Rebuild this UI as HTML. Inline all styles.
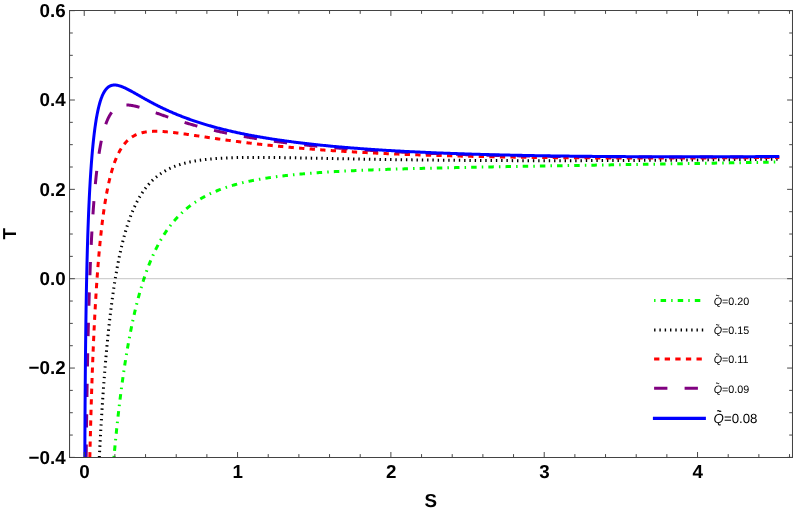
<!DOCTYPE html>
<html><head><meta charset="utf-8"><title>T vs S</title>
<style>
html,body{margin:0;padding:0;background:#fff;}
body{width:793px;height:512px;overflow:hidden;font-family:"Liberation Sans",sans-serif;}
svg{display:block;}
text{font-family:"Liberation Sans",sans-serif;text-rendering:geometricPrecision;}
.tl{font-weight:bold;font-size:18.8px;fill:#000;}
.lg{font-size:10.75px;fill:#000;}
.lgb{font-size:13.25px;fill:#000;}
</style></head><body>
<svg width="793" height="512" viewBox="0 0 793 512" style="will-change:transform">
<rect x="0" y="0" width="793" height="512" fill="#ffffff"/>

<g fill="none" stroke-linejoin="round" stroke-linecap="butt">
<path d="M113.94 457.40 L114.26 453.80 L114.59 450.25 L114.92 446.74 L115.25 443.27 L115.59 439.85 L115.92 436.46 L116.26 433.12 L116.60 429.82 L116.94 426.56 L117.29 423.34 L117.63 420.15 L117.98 417.01 L118.33 413.90 L118.68 410.84 L119.03 407.81 L119.38 404.82 L119.74 401.86 L120.10 398.94 L120.46 396.05 L120.82 393.20 L121.18 390.39 L121.54 387.61 L121.91 384.86 L122.28 382.15 L122.65 379.47 L123.02 376.83 L123.39 374.21 L123.77 371.63 L124.15 369.08 L124.53 366.56 L124.91 364.08 L125.29 361.62 L125.67 359.19 L126.06 356.79 L126.45 354.43 L126.84 352.09 L127.23 349.78 L127.62 347.50 L128.02 345.25 L128.41 343.02 L128.81 340.82 L129.21 338.65 L129.62 336.51 L130.02 334.39 L130.43 332.30 L130.83 330.24 L131.24 328.20 L131.65 326.19 L132.07 324.20 L132.48 322.23 L132.90 320.30 L133.32 318.38 L133.74 316.49 L134.16 314.62 L134.58 312.78 L135.01 310.96 L135.44 309.16 L135.87 307.38 L136.30 305.63 L136.73 303.90 L137.16 302.19 L137.60 300.50 L138.04 298.83 L138.48 297.18 L138.92 295.56 L139.36 293.95 L139.81 292.37 L140.26 290.80 L140.70 289.26 L141.15 287.73 L141.61 286.23 L142.06 284.74 L142.52 283.27 L142.97 281.82 L143.43 280.39 L143.90 278.97 L144.36 277.58 L144.82 276.20 L145.29 274.84 L145.76 273.49 L146.23 272.17 L146.70 270.86 L147.18 269.56 L147.65 268.29 L148.13 267.03 L148.61 265.78 L149.09 264.55 L149.57 263.34 L150.06 262.14 L150.54 260.96 L151.03 259.79 L151.52 258.64 L152.01 257.50 L152.51 256.38 L153.00 255.27 L153.50 254.17 L154.00 253.09 L154.50 252.02 L155.00 250.97 L155.51 249.93 L156.01 248.90 L156.52 247.89 L157.03 246.89 L157.54 245.90 L158.05 244.92 L158.57 243.96 L159.09 243.01 L159.60 242.07 L160.12 241.14 L160.65 240.22 L161.17 239.32 L161.70 238.43 L162.22 237.55 L162.75 236.68 L163.28 235.82 L163.82 234.97 L164.35 234.14 L164.89 233.31 L165.43 232.50 L165.97 231.69 L166.51 230.90 L167.05 230.11 L167.60 229.34 L168.15 228.57 L168.69 227.82 L169.25 227.07 L169.80 226.34 L170.35 225.61 L170.91 224.89 L171.47 224.18 L172.03 223.48 L172.59 222.79 L173.15 222.11 L173.72 221.44 L174.28 220.78 L174.85 220.12 L175.42 219.47 L176.00 218.83 L176.57 218.20 L177.15 217.58 L177.72 216.97 L178.30 216.36 L178.88 215.76 L179.47 215.17 L180.05 214.58 L180.64 214.01 L181.23 213.44 L181.82 212.87 L182.41 212.32 L183.00 211.77 L183.60 211.23 L184.20 210.70 L184.80 210.17 L185.40 209.65 L186.00 209.13 L186.60 208.63 L187.21 208.12 L187.82 207.63 L188.43 207.14 L189.04 206.66 L189.65 206.18 L190.27 205.71 L190.89 205.25 L191.51 204.79 L192.13 204.33 L192.75 203.89 L193.37 203.45 L194.00 203.01 L194.63 202.58 L195.26 202.15 L195.89 201.73 L196.52 201.32 L197.16 200.91 L197.79 200.51 L198.43 200.11 L199.07 199.71 L199.71 199.33 L200.36 198.94 L201.00 198.56 L201.65 198.19 L202.30 197.82 L202.95 197.45 L203.60 197.09 L204.26 196.74 L204.92 196.38 L205.57 196.04 L206.23 195.69 L206.90 195.36 L207.56 195.02 L208.22 194.69 L208.89 194.36 L209.56 194.04 L210.23 193.72 L210.90 193.41 L211.58 193.10 L212.25 192.79 L212.93 192.49 L213.61 192.19 L214.29 191.90 L214.98 191.61 L215.66 191.32 L216.35 191.03 L217.04 190.75 L217.73 190.48 L218.42 190.20 L219.12 189.93 L219.81 189.66 L220.51 189.40 L221.21 189.14 L221.91 188.88 L222.61 188.63 L223.32 188.38 L224.02 188.13 L224.73 187.88 L225.44 187.64 L226.15 187.40 L226.87 187.17 L227.58 186.93 L228.30 186.70 L229.02 186.48 L229.74 186.25 L230.46 186.03 L231.19 185.81 L231.91 185.59 L232.64 185.38 L233.37 185.17 L234.10 184.96 L234.84 184.75 L235.57 184.55 L236.31 184.35 L237.05 184.15 L237.79 183.95 L238.53 183.76 L239.28 183.57 L240.02 183.38 L240.77 183.19 L241.52 183.01 L242.27 182.82 L243.02 182.64 L243.78 182.46 L244.54 182.29 L245.29 182.11 L246.05 181.94 L246.82 181.77 L247.58 181.60 L248.35 181.44 L249.11 181.27 L249.88 181.11 L250.65 180.95 L251.43 180.79 L252.20 180.64 L252.98 180.48 L253.76 180.33 L254.54 180.18 L255.32 180.03 L256.10 179.89 L256.89 179.74 L257.67 179.60 L258.46 179.45 L259.25 179.31 L260.05 179.18 L260.84 179.04 L261.64 178.90 L262.44 178.77 L263.23 178.64 L264.04 178.51 L264.84 178.38 L265.64 178.25 L266.45 178.12 L267.26 178.00 L268.07 177.88 L268.88 177.75 L269.70 177.63 L270.51 177.51 L271.33 177.40 L272.15 177.28 L272.97 177.17 L273.79 177.05 L274.62 176.94 L275.45 176.83 L276.27 176.72 L277.10 176.61 L277.94 176.50 L278.77 176.40 L279.60 176.29 L280.44 176.19 L281.28 176.09 L282.12 175.99 L282.96 175.89 L283.81 175.79 L284.66 175.69 L285.50 175.59 L286.35 175.50 L287.21 175.40 L288.06 175.31 L288.91 175.22 L289.77 175.12 L290.63 175.03 L291.49 174.94 L292.35 174.86 L293.22 174.77 L294.08 174.68 L294.95 174.60 L295.82 174.51 L296.69 174.43 L297.56 174.35 L298.44 174.26 L299.32 174.18 L300.19 174.10 L301.07 174.02 L301.96 173.95 L302.84 173.87 L303.73 173.79 L304.61 173.72 L305.50 173.64 L306.39 173.57 L307.29 173.49 L308.18 173.42 L309.08 173.35 L309.98 173.28 L310.88 173.21 L311.78 173.14 L312.68 173.07 L313.59 173.00 L314.49 172.93 L315.40 172.87 L316.31 172.80 L317.23 172.74 L318.14 172.67 L319.06 172.61 L319.97 172.54 L320.89 172.48 L321.81 172.42 L322.74 172.36 L323.66 172.30 L324.59 172.24 L325.52 172.18 L326.45 172.12 L327.38 172.06 L328.32 172.00 L329.25 171.95 L330.19 171.89 L331.13 171.83 L332.07 171.78 L333.01 171.72 L333.96 171.67 L334.90 171.61 L335.85 171.56 L336.80 171.51 L337.75 171.46 L338.71 171.40 L339.66 171.35 L340.62 171.30 L341.58 171.25 L342.54 171.20 L343.50 171.15 L344.47 171.10 L345.43 171.05 L346.40 171.01 L347.37 170.96 L348.34 170.91 L349.32 170.87 L350.29 170.82 L351.27 170.77 L352.25 170.73 L353.23 170.68 L354.21 170.64 L355.19 170.59 L356.18 170.55 L357.17 170.51 L358.16 170.46 L359.15 170.42 L360.14 170.38 L361.14 170.34 L362.13 170.30 L363.13 170.25 L364.13 170.21 L365.13 170.17 L366.14 170.13 L367.14 170.09 L368.15 170.05 L369.16 170.01 L370.17 169.98 L371.18 169.94 L372.20 169.90 L373.21 169.86 L374.23 169.82 L375.25 169.79 L376.27 169.75 L377.30 169.71 L378.32 169.68 L379.35 169.64 L380.38 169.60 L381.41 169.57 L382.44 169.53 L383.48 169.50 L384.51 169.46 L385.55 169.43 L386.59 169.39 L387.63 169.36 L388.67 169.33 L389.72 169.29 L390.77 169.26 L391.81 169.23 L392.86 169.19 L393.92 169.16 L394.97 169.13 L396.03 169.10 L397.08 169.07 L398.14 169.03 L399.20 169.00 L400.27 168.97 L401.33 168.94 L402.40 168.91 L403.47 168.88 L404.54 168.85 L405.61 168.82 L406.68 168.79 L407.76 168.76 L408.83 168.73 L409.91 168.70 L410.99 168.67 L412.08 168.64 L413.16 168.61 L414.25 168.58 L415.33 168.55 L416.42 168.52 L417.52 168.50 L418.61 168.47 L419.70 168.44 L420.80 168.41 L421.90 168.38 L423.00 168.36 L424.10 168.33 L425.21 168.30 L426.31 168.28 L427.42 168.25 L428.53 168.22 L429.64 168.19 L430.75 168.17 L431.87 168.14 L432.99 168.11 L434.10 168.09 L435.22 168.06 L436.35 168.04 L437.47 168.01 L438.60 167.98 L439.72 167.96 L440.85 167.93 L441.98 167.91 L443.12 167.88 L444.25 167.86 L445.39 167.83 L446.52 167.81 L447.66 167.78 L448.81 167.76 L449.95 167.73 L451.09 167.71 L452.24 167.68 L453.39 167.66 L454.54 167.63 L455.69 167.61 L456.85 167.59 L458.00 167.56 L459.16 167.54 L460.32 167.51 L461.48 167.49 L462.64 167.47 L463.81 167.44 L464.98 167.42 L466.14 167.40 L467.32 167.37 L468.49 167.35 L469.66 167.33 L470.84 167.30 L472.01 167.28 L473.19 167.26 L474.37 167.23 L475.56 167.21 L476.74 167.19 L477.93 167.16 L479.12 167.14 L480.31 167.12 L481.50 167.09 L482.69 167.07 L483.89 167.05 L485.08 167.03 L486.28 167.00 L487.48 166.98 L488.69 166.96 L489.89 166.94 L491.10 166.91 L492.30 166.89 L493.51 166.87 L494.73 166.85 L495.94 166.82 L497.15 166.80 L498.37 166.78 L499.59 166.76 L500.81 166.73 L502.03 166.71 L503.26 166.69 L504.48 166.67 L505.71 166.65 L506.94 166.62 L508.17 166.60 L509.40 166.58 L510.64 166.56 L511.87 166.54 L513.11 166.51 L514.35 166.49 L515.59 166.47 L516.84 166.45 L518.08 166.43 L519.33 166.40 L520.58 166.38 L521.83 166.36 L523.08 166.34 L524.34 166.32 L525.59 166.29 L526.85 166.27 L528.11 166.25 L529.37 166.23 L530.64 166.21 L531.90 166.19 L533.17 166.16 L534.44 166.14 L535.71 166.12 L536.98 166.10 L538.26 166.08 L539.53 166.06 L540.81 166.03 L542.09 166.01 L543.37 165.99 L544.65 165.97 L545.94 165.95 L547.22 165.92 L548.51 165.90 L549.80 165.88 L551.10 165.86 L552.39 165.84 L553.68 165.82 L554.98 165.79 L556.28 165.77 L557.58 165.75 L558.88 165.73 L560.19 165.71 L561.50 165.68 L562.80 165.66 L564.11 165.64 L565.43 165.62 L566.74 165.60 L568.05 165.57 L569.37 165.55 L570.69 165.53 L572.01 165.51 L573.33 165.49 L574.66 165.46 L575.98 165.44 L577.31 165.42 L578.64 165.40 L579.97 165.38 L581.31 165.35 L582.64 165.33 L583.98 165.31 L585.32 165.29 L586.66 165.27 L588.00 165.24 L589.34 165.22 L590.69 165.20 L592.04 165.18 L593.39 165.15 L594.74 165.13 L596.09 165.11 L597.44 165.09 L598.80 165.06 L600.16 165.04 L601.52 165.02 L602.88 165.00 L604.24 164.97 L605.61 164.95 L606.98 164.93 L608.35 164.91 L609.72 164.88 L611.09 164.86 L612.46 164.84 L613.84 164.82 L615.22 164.79 L616.60 164.77 L617.98 164.75 L619.36 164.72 L620.75 164.70 L622.13 164.68 L623.52 164.66 L624.91 164.63 L626.31 164.61 L627.70 164.59 L629.10 164.56 L630.49 164.54 L631.89 164.52 L633.29 164.49 L634.70 164.47 L636.10 164.45 L637.51 164.42 L638.92 164.40 L640.33 164.38 L641.74 164.35 L643.15 164.33 L644.57 164.31 L645.99 164.28 L647.41 164.26 L648.83 164.23 L650.25 164.21 L651.67 164.19 L653.10 164.16 L654.53 164.14 L655.96 164.12 L657.39 164.09 L658.82 164.07 L660.26 164.04 L661.69 164.02 L663.13 164.00 L664.57 163.97 L666.02 163.95 L667.46 163.92 L668.91 163.90 L670.35 163.88 L671.80 163.85 L673.26 163.83 L674.71 163.80 L676.16 163.78 L677.62 163.75 L679.08 163.73 L680.54 163.70 L682.00 163.68 L683.47 163.65 L684.93 163.63 L686.40 163.61 L687.87 163.58 L689.34 163.56 L690.81 163.53 L692.29 163.51 L693.76 163.48 L695.24 163.46 L696.72 163.43 L698.20 163.41 L699.69 163.38 L701.17 163.36 L702.66 163.33 L704.15 163.30 L705.64 163.28 L707.13 163.25 L708.63 163.23 L710.12 163.20 L711.62 163.18 L713.12 163.15 L714.62 163.13 L716.12 163.10 L717.63 163.07 L719.14 163.05 L720.64 163.02 L722.16 163.00 L723.67 162.97 L725.18 162.95 L726.70 162.92 L728.21 162.89 L729.73 162.87 L731.26 162.84 L732.78 162.81 L734.30 162.79 L735.83 162.76 L737.36 162.74 L738.89 162.71 L740.42 162.68 L741.95 162.66 L743.49 162.63 L745.03 162.60 L746.57 162.58 L748.11 162.55 L749.65 162.52 L751.19 162.50 L752.74 162.47 L754.29 162.44 L755.84 162.41 L757.39 162.39 L758.94 162.36 L760.50 162.33 L762.05 162.31 L763.61 162.28 L765.17 162.25 L766.74 162.22 L768.30 162.20 L769.87 162.17 L771.43 162.14 L773.00 162.11 L774.58 162.09 L776.15 162.06 L777.72 162.03 L779.30 162.00" stroke="#00ff00" stroke-width="3.00" stroke-dasharray="1.5 5.08 5.5 5.1"/>
<path d="M99.31 457.40 L99.56 452.45 L99.81 447.58 L100.07 442.78 L100.33 438.06 L100.59 433.42 L100.85 428.84 L101.11 424.34 L101.38 419.91 L101.64 415.54 L101.91 411.24 L102.18 407.01 L102.46 402.85 L102.73 398.75 L103.01 394.71 L103.29 390.73 L103.57 386.82 L103.86 382.96 L104.14 379.17 L104.43 375.43 L104.72 371.75 L105.01 368.12 L105.31 364.56 L105.60 361.04 L105.90 357.58 L106.20 354.18 L106.51 350.82 L106.81 347.52 L107.12 344.27 L107.43 341.07 L107.74 337.92 L108.05 334.81 L108.37 331.76 L108.68 328.75 L109.00 325.79 L109.32 322.87 L109.65 320.00 L109.97 317.18 L110.30 314.39 L110.63 311.66 L110.96 308.96 L111.29 306.31 L111.63 303.70 L111.97 301.12 L112.31 298.59 L112.65 296.10 L112.99 293.65 L113.34 291.24 L113.69 288.86 L114.04 286.53 L114.39 284.23 L114.74 281.96 L115.10 279.73 L115.46 277.54 L115.82 275.38 L116.18 273.26 L116.55 271.17 L116.91 269.12 L117.28 267.10 L117.65 265.11 L118.03 263.15 L118.40 261.22 L118.78 259.33 L119.16 257.47 L119.54 255.63 L119.92 253.83 L120.31 252.06 L120.69 250.31 L121.08 248.60 L121.48 246.91 L121.87 245.25 L122.26 243.62 L122.66 242.01 L123.06 240.43 L123.46 238.88 L123.87 237.35 L124.27 235.85 L124.68 234.37 L125.09 232.92 L125.50 231.49 L125.92 230.09 L126.34 228.71 L126.75 227.35 L127.17 226.02 L127.60 224.71 L128.02 223.42 L128.45 222.15 L128.88 220.91 L129.31 219.68 L129.74 218.48 L130.18 217.30 L130.61 216.13 L131.05 214.99 L131.49 213.87 L131.94 212.77 L132.38 211.68 L132.83 210.62 L133.28 209.57 L133.73 208.54 L134.18 207.53 L134.64 206.53 L135.10 205.56 L135.56 204.60 L136.02 203.66 L136.48 202.73 L136.95 201.82 L137.42 200.93 L137.89 200.05 L138.36 199.19 L138.83 198.34 L139.31 197.51 L139.79 196.69 L140.27 195.89 L140.75 195.10 L141.24 194.33 L141.72 193.57 L142.21 192.82 L142.70 192.09 L143.20 191.37 L143.69 190.66 L144.19 189.96 L144.69 189.28 L145.19 188.61 L145.69 187.96 L146.20 187.31 L146.70 186.68 L147.21 186.06 L147.72 185.44 L148.24 184.85 L148.75 184.26 L149.27 183.68 L149.79 183.11 L150.31 182.56 L150.84 182.01 L151.36 181.47 L151.89 180.95 L152.42 180.43 L152.95 179.92 L153.49 179.43 L154.02 178.94 L154.56 178.46 L155.10 177.99 L155.65 177.53 L156.19 177.08 L156.74 176.63 L157.29 176.20 L157.84 175.77 L158.39 175.35 L158.94 174.94 L159.50 174.54 L160.06 174.14 L160.62 173.75 L161.18 173.37 L161.75 173.00 L162.32 172.64 L162.89 172.28 L163.46 171.92 L164.03 171.58 L164.61 171.24 L165.19 170.91 L165.77 170.59 L166.35 170.27 L166.93 169.95 L167.52 169.65 L168.10 169.35 L168.70 169.05 L169.29 168.77 L169.88 168.48 L170.48 168.21 L171.08 167.94 L171.68 167.67 L172.28 167.41 L172.88 167.15 L173.49 166.90 L174.10 166.66 L174.71 166.42 L175.32 166.18 L175.94 165.95 L176.55 165.73 L177.17 165.51 L177.80 165.29 L178.42 165.08 L179.04 164.87 L179.67 164.67 L180.30 164.47 L180.93 164.28 L181.57 164.09 L182.20 163.90 L182.84 163.72 L183.48 163.54 L184.12 163.37 L184.76 163.20 L185.41 163.03 L186.06 162.87 L186.71 162.71 L187.36 162.55 L188.02 162.40 L188.67 162.25 L189.33 162.11 L189.99 161.96 L190.65 161.82 L191.32 161.69 L191.98 161.56 L192.65 161.43 L193.32 161.30 L194.00 161.18 L194.67 161.05 L195.35 160.94 L196.03 160.82 L196.71 160.71 L197.39 160.60 L198.08 160.49 L198.76 160.39 L199.45 160.29 L200.15 160.19 L200.84 160.09 L201.53 159.99 L202.23 159.90 L202.93 159.81 L203.63 159.73 L204.34 159.64 L205.04 159.56 L205.75 159.48 L206.46 159.40 L207.17 159.32 L207.89 159.25 L208.60 159.17 L209.32 159.10 L210.04 159.03 L210.77 158.97 L211.49 158.90 L212.22 158.84 L212.95 158.78 L213.68 158.72 L214.41 158.66 L215.14 158.61 L215.88 158.55 L216.62 158.50 L217.36 158.45 L218.10 158.40 L218.85 158.35 L219.60 158.30 L220.35 158.26 L221.10 158.22 L221.85 158.17 L222.61 158.13 L223.37 158.09 L224.12 158.06 L224.89 158.02 L225.65 157.99 L226.42 157.95 L227.18 157.92 L227.95 157.89 L228.73 157.86 L229.50 157.83 L230.28 157.80 L231.06 157.77 L231.84 157.75 L232.62 157.72 L233.40 157.70 L234.19 157.68 L234.98 157.66 L235.77 157.64 L236.56 157.62 L237.36 157.60 L238.15 157.58 L238.95 157.57 L239.75 157.55 L240.56 157.54 L241.36 157.53 L242.17 157.51 L242.98 157.50 L243.79 157.49 L244.60 157.48 L245.42 157.47 L246.24 157.46 L247.06 157.45 L247.88 157.45 L248.70 157.44 L249.53 157.44 L250.36 157.43 L251.19 157.43 L252.02 157.42 L252.85 157.42 L253.69 157.42 L254.53 157.42 L255.37 157.42 L256.21 157.42 L257.06 157.42 L257.90 157.42 L258.75 157.42 L259.60 157.42 L260.45 157.42 L261.31 157.43 L262.17 157.43 L263.03 157.44 L263.89 157.44 L264.75 157.45 L265.61 157.45 L266.48 157.46 L267.35 157.46 L268.22 157.47 L269.10 157.48 L269.97 157.49 L270.85 157.49 L271.73 157.50 L272.61 157.51 L273.49 157.52 L274.38 157.53 L275.27 157.54 L276.16 157.55 L277.05 157.56 L277.95 157.57 L278.84 157.59 L279.74 157.60 L280.64 157.61 L281.54 157.62 L282.45 157.64 L283.35 157.65 L284.26 157.66 L285.17 157.68 L286.09 157.69 L287.00 157.70 L287.92 157.72 L288.84 157.73 L289.76 157.75 L290.68 157.76 L291.61 157.78 L292.53 157.79 L293.46 157.81 L294.39 157.83 L295.33 157.84 L296.26 157.86 L297.20 157.88 L298.14 157.89 L299.08 157.91 L300.03 157.93 L300.97 157.94 L301.92 157.96 L302.87 157.98 L303.82 158.00 L304.78 158.01 L305.73 158.03 L306.69 158.05 L307.65 158.07 L308.61 158.09 L309.58 158.10 L310.55 158.12 L311.51 158.14 L312.48 158.16 L313.46 158.18 L314.43 158.20 L315.41 158.22 L316.39 158.24 L317.37 158.26 L318.35 158.28 L319.34 158.29 L320.33 158.31 L321.31 158.33 L322.31 158.35 L323.30 158.37 L324.30 158.39 L325.29 158.41 L326.29 158.43 L327.29 158.45 L328.30 158.47 L329.30 158.49 L330.31 158.51 L331.32 158.53 L332.33 158.55 L333.35 158.57 L334.36 158.59 L335.38 158.61 L336.40 158.63 L337.43 158.65 L338.45 158.67 L339.48 158.69 L340.51 158.71 L341.54 158.73 L342.57 158.75 L343.60 158.77 L344.64 158.79 L345.68 158.81 L346.72 158.83 L347.76 158.85 L348.81 158.87 L349.86 158.88 L350.91 158.90 L351.96 158.92 L353.01 158.94 L354.07 158.96 L355.12 158.98 L356.18 159.00 L357.25 159.02 L358.31 159.04 L359.37 159.06 L360.44 159.08 L361.51 159.10 L362.58 159.12 L363.66 159.14 L364.74 159.15 L365.81 159.17 L366.89 159.19 L367.98 159.21 L369.06 159.23 L370.15 159.25 L371.24 159.27 L372.33 159.28 L373.42 159.30 L374.51 159.32 L375.61 159.34 L376.71 159.36 L377.81 159.38 L378.91 159.39 L380.02 159.41 L381.13 159.43 L382.24 159.45 L383.35 159.46 L384.46 159.48 L385.58 159.50 L386.69 159.52 L387.81 159.53 L388.94 159.55 L390.06 159.57 L391.19 159.58 L392.31 159.60 L393.44 159.62 L394.58 159.63 L395.71 159.65 L396.85 159.67 L397.98 159.68 L399.12 159.70 L400.27 159.71 L401.41 159.73 L402.56 159.75 L403.71 159.76 L404.86 159.78 L406.01 159.79 L407.16 159.81 L408.32 159.82 L409.48 159.84 L410.64 159.85 L411.80 159.87 L412.97 159.88 L414.14 159.90 L415.31 159.91 L416.48 159.93 L417.65 159.94 L418.83 159.96 L420.00 159.97 L421.18 159.98 L422.37 160.00 L423.55 160.01 L424.74 160.02 L425.92 160.04 L427.11 160.05 L428.31 160.06 L429.50 160.08 L430.70 160.09 L431.89 160.10 L433.09 160.11 L434.30 160.13 L435.50 160.14 L436.71 160.15 L437.92 160.16 L439.13 160.18 L440.34 160.19 L441.55 160.20 L442.77 160.21 L443.99 160.22 L445.21 160.23 L446.43 160.24 L447.66 160.26 L448.89 160.27 L450.12 160.28 L451.35 160.29 L452.58 160.30 L453.82 160.31 L455.05 160.32 L456.29 160.33 L457.54 160.34 L458.78 160.35 L460.03 160.36 L461.27 160.37 L462.52 160.38 L463.77 160.39 L465.03 160.39 L466.29 160.40 L467.54 160.41 L468.80 160.42 L470.07 160.43 L471.33 160.44 L472.60 160.45 L473.87 160.45 L475.14 160.46 L476.41 160.47 L477.68 160.48 L478.96 160.48 L480.24 160.49 L481.52 160.50 L482.80 160.51 L484.09 160.51 L485.38 160.52 L486.67 160.53 L487.96 160.53 L489.25 160.54 L490.55 160.54 L491.84 160.55 L493.14 160.56 L494.44 160.56 L495.75 160.57 L497.05 160.57 L498.36 160.58 L499.67 160.58 L500.98 160.59 L502.30 160.59 L503.61 160.60 L504.93 160.60 L506.25 160.61 L507.58 160.61 L508.90 160.62 L510.23 160.62 L511.56 160.62 L512.89 160.63 L514.22 160.63 L515.55 160.63 L516.89 160.64 L518.23 160.64 L519.57 160.64 L520.91 160.65 L522.26 160.65 L523.61 160.65 L524.95 160.65 L526.31 160.66 L527.66 160.66 L529.01 160.66 L530.37 160.66 L531.73 160.66 L533.09 160.66 L534.46 160.67 L535.82 160.67 L537.19 160.67 L538.56 160.67 L539.93 160.67 L541.31 160.67 L542.68 160.67 L544.06 160.67 L545.44 160.67 L546.82 160.67 L548.21 160.67 L549.60 160.67 L550.98 160.67 L552.37 160.67 L553.77 160.67 L555.16 160.67 L556.56 160.67 L557.96 160.67 L559.36 160.67 L560.76 160.66 L562.17 160.66 L563.57 160.66 L564.98 160.66 L566.39 160.66 L567.81 160.66 L569.22 160.65 L570.64 160.65 L572.06 160.65 L573.48 160.65 L574.91 160.64 L576.33 160.64 L577.76 160.64 L579.19 160.63 L580.62 160.63 L582.06 160.63 L583.49 160.62 L584.93 160.62 L586.37 160.62 L587.81 160.61 L589.26 160.61 L590.70 160.60 L592.15 160.60 L593.60 160.59 L595.06 160.59 L596.51 160.58 L597.97 160.58 L599.43 160.57 L600.89 160.57 L602.35 160.56 L603.82 160.56 L605.28 160.55 L606.75 160.55 L608.22 160.54 L609.70 160.53 L611.17 160.53 L612.65 160.52 L614.13 160.51 L615.61 160.51 L617.09 160.50 L618.58 160.49 L620.07 160.49 L621.56 160.48 L623.05 160.47 L624.54 160.47 L626.04 160.46 L627.54 160.45 L629.04 160.44 L630.54 160.43 L632.05 160.43 L633.55 160.42 L635.06 160.41 L636.57 160.40 L638.08 160.39 L639.60 160.38 L641.12 160.37 L642.63 160.37 L644.16 160.36 L645.68 160.35 L647.20 160.34 L648.73 160.33 L650.26 160.32 L651.79 160.31 L653.32 160.30 L654.86 160.29 L656.40 160.28 L657.94 160.27 L659.48 160.26 L661.02 160.25 L662.57 160.24 L664.12 160.22 L665.67 160.21 L667.22 160.20 L668.77 160.19 L670.33 160.18 L671.89 160.17 L673.45 160.16 L675.01 160.15 L676.57 160.13 L678.14 160.12 L679.71 160.11 L681.28 160.10 L682.85 160.08 L684.43 160.07 L686.00 160.06 L687.58 160.05 L689.16 160.03 L690.75 160.02 L692.33 160.01 L693.92 159.99 L695.51 159.98 L697.10 159.97 L698.69 159.95 L700.29 159.94 L701.88 159.93 L703.48 159.91 L705.09 159.90 L706.69 159.88 L708.30 159.87 L709.90 159.85 L711.51 159.84 L713.12 159.83 L714.74 159.81 L716.36 159.80 L717.97 159.78 L719.59 159.76 L721.22 159.75 L722.84 159.73 L724.47 159.72 L726.10 159.70 L727.73 159.69 L729.36 159.67 L730.99 159.66 L732.63 159.64 L734.27 159.62 L735.91 159.61 L737.55 159.59 L739.20 159.57 L740.84 159.56 L742.49 159.54 L744.15 159.52 L745.80 159.51 L747.45 159.49 L749.11 159.47 L750.77 159.45 L752.43 159.44 L754.10 159.42 L755.76 159.40 L757.43 159.38 L759.10 159.36 L760.77 159.35 L762.45 159.33 L764.12 159.31 L765.80 159.29 L767.48 159.27 L769.16 159.25 L770.85 159.24 L772.53 159.22 L774.22 159.20 L775.91 159.18 L777.61 159.16 L779.30 159.14" stroke="#000000" stroke-width="3.00" stroke-dasharray="1.4 3.89"/>
<path d="M89.84 457.40 L90.01 450.28 L90.17 443.32 L90.34 436.51 L90.51 429.87 L90.69 423.36 L90.86 417.00 L91.04 410.78 L91.22 404.69 L91.40 398.74 L91.59 392.90 L91.78 387.19 L91.97 381.60 L92.16 376.12 L92.35 370.76 L92.55 365.50 L92.75 360.35 L92.95 355.31 L93.16 350.36 L93.36 345.51 L93.57 340.76 L93.78 336.10 L94.00 331.54 L94.21 327.06 L94.43 322.67 L94.65 318.37 L94.87 314.14 L95.10 310.00 L95.33 305.95 L95.56 301.96 L95.79 298.06 L96.02 294.23 L96.26 290.48 L96.50 286.79 L96.74 283.18 L96.98 279.64 L97.23 276.17 L97.48 272.76 L97.73 269.42 L97.98 266.14 L98.24 262.93 L98.50 259.78 L98.76 256.69 L99.02 253.66 L99.29 250.69 L99.56 247.78 L99.83 244.92 L100.10 242.13 L100.37 239.38 L100.65 236.70 L100.93 234.06 L101.21 231.48 L101.49 228.95 L101.78 226.47 L102.07 224.04 L102.36 221.66 L102.65 219.33 L102.95 217.05 L103.25 214.81 L103.55 212.62 L103.85 210.47 L104.16 208.37 L104.47 206.32 L104.78 204.30 L105.09 202.33 L105.40 200.40 L105.72 198.52 L106.04 196.67 L106.36 194.86 L106.69 193.09 L107.01 191.36 L107.34 189.67 L107.67 188.02 L108.01 186.40 L108.34 184.82 L108.68 183.27 L109.02 181.76 L109.36 180.28 L109.71 178.84 L110.06 177.43 L110.41 176.05 L110.76 174.70 L111.11 173.38 L111.47 172.10 L111.83 170.85 L112.19 169.62 L112.56 168.43 L112.92 167.26 L113.29 166.12 L113.66 165.01 L114.04 163.92 L114.41 162.87 L114.79 161.83 L115.17 160.83 L115.56 159.85 L115.94 158.89 L116.33 157.96 L116.72 157.05 L117.11 156.17 L117.51 155.31 L117.91 154.47 L118.30 153.65 L118.71 152.85 L119.11 152.08 L119.52 151.32 L119.93 150.59 L120.34 149.87 L120.75 149.18 L121.17 148.51 L121.59 147.85 L122.01 147.21 L122.43 146.59 L122.86 145.99 L123.28 145.40 L123.71 144.83 L124.15 144.28 L124.58 143.75 L125.02 143.23 L125.46 142.72 L125.90 142.23 L126.34 141.76 L126.79 141.30 L127.24 140.85 L127.69 140.42 L128.15 140.00 L128.60 139.60 L129.06 139.21 L129.52 138.83 L129.98 138.46 L130.45 138.11 L130.92 137.77 L131.39 137.44 L131.86 137.12 L132.34 136.81 L132.81 136.52 L133.29 136.23 L133.78 135.96 L134.26 135.69 L134.75 135.44 L135.24 135.19 L135.73 134.95 L136.22 134.73 L136.72 134.51 L137.22 134.30 L137.72 134.10 L138.22 133.91 L138.73 133.73 L139.23 133.56 L139.74 133.39 L140.26 133.23 L140.77 133.08 L141.29 132.94 L141.81 132.80 L142.33 132.67 L142.86 132.55 L143.38 132.43 L143.91 132.32 L144.44 132.22 L144.98 132.12 L145.51 132.03 L146.05 131.95 L146.59 131.87 L147.14 131.80 L147.68 131.73 L148.23 131.67 L148.78 131.61 L149.33 131.56 L149.89 131.51 L150.45 131.47 L151.01 131.44 L151.57 131.40 L152.13 131.38 L152.70 131.35 L153.27 131.33 L153.84 131.32 L154.41 131.31 L154.99 131.30 L155.57 131.30 L156.15 131.30 L156.73 131.31 L157.32 131.31 L157.91 131.33 L158.50 131.34 L159.09 131.36 L159.69 131.38 L160.28 131.41 L160.88 131.44 L161.49 131.47 L162.09 131.50 L162.70 131.54 L163.31 131.58 L163.92 131.62 L164.53 131.66 L165.15 131.71 L165.77 131.76 L166.39 131.81 L167.01 131.87 L167.64 131.92 L168.27 131.98 L168.90 132.04 L169.53 132.11 L170.17 132.17 L170.80 132.24 L171.44 132.31 L172.09 132.38 L172.73 132.45 L173.38 132.53 L174.03 132.60 L174.68 132.68 L175.33 132.76 L175.99 132.84 L176.65 132.92 L177.31 133.01 L177.97 133.09 L178.64 133.18 L179.31 133.26 L179.98 133.35 L180.65 133.44 L181.33 133.53 L182.00 133.63 L182.68 133.72 L183.37 133.82 L184.05 133.91 L184.74 134.01 L185.43 134.10 L186.12 134.20 L186.81 134.30 L187.51 134.40 L188.21 134.50 L188.91 134.60 L189.61 134.71 L190.32 134.81 L191.03 134.91 L191.74 135.02 L192.45 135.12 L193.17 135.23 L193.88 135.34 L194.60 135.44 L195.33 135.55 L196.05 135.66 L196.78 135.77 L197.51 135.88 L198.24 135.98 L198.97 136.09 L199.71 136.20 L200.45 136.31 L201.19 136.43 L201.93 136.54 L202.68 136.65 L203.43 136.76 L204.18 136.87 L204.93 136.98 L205.69 137.10 L206.45 137.21 L207.21 137.32 L207.97 137.43 L208.73 137.55 L209.50 137.66 L210.27 137.77 L211.04 137.89 L211.82 138.00 L212.59 138.11 L213.37 138.23 L214.15 138.34 L214.94 138.45 L215.72 138.57 L216.51 138.68 L217.30 138.80 L218.09 138.91 L218.89 139.02 L219.69 139.14 L220.49 139.25 L221.29 139.36 L222.10 139.48 L222.90 139.59 L223.71 139.70 L224.52 139.82 L225.34 139.93 L226.16 140.04 L226.97 140.16 L227.80 140.27 L228.62 140.38 L229.45 140.49 L230.27 140.60 L231.11 140.72 L231.94 140.83 L232.77 140.94 L233.61 141.05 L234.45 141.16 L235.29 141.27 L236.14 141.38 L236.99 141.49 L237.84 141.60 L238.69 141.71 L239.54 141.82 L240.40 141.93 L241.26 142.04 L242.12 142.15 L242.98 142.26 L243.85 142.37 L244.72 142.48 L245.59 142.58 L246.46 142.69 L247.34 142.80 L248.22 142.90 L249.10 143.01 L249.98 143.12 L250.86 143.22 L251.75 143.33 L252.64 143.43 L253.53 143.54 L254.43 143.64 L255.33 143.75 L256.22 143.85 L257.13 143.95 L258.03 144.06 L258.94 144.16 L259.84 144.26 L260.76 144.36 L261.67 144.47 L262.58 144.57 L263.50 144.67 L264.42 144.77 L265.35 144.87 L266.27 144.97 L267.20 145.07 L268.13 145.17 L269.06 145.27 L269.99 145.36 L270.93 145.46 L271.87 145.56 L272.81 145.66 L273.76 145.75 L274.70 145.85 L275.65 145.95 L276.60 146.04 L277.56 146.14 L278.51 146.23 L279.47 146.32 L280.43 146.42 L281.39 146.51 L282.36 146.60 L283.33 146.70 L284.29 146.79 L285.27 146.88 L286.24 146.97 L287.22 147.06 L288.20 147.15 L289.18 147.24 L290.16 147.33 L291.15 147.42 L292.14 147.51 L293.13 147.60 L294.12 147.69 L295.12 147.78 L296.12 147.86 L297.12 147.95 L298.12 148.04 L299.13 148.12 L300.13 148.21 L301.14 148.29 L302.16 148.38 L303.17 148.46 L304.19 148.54 L305.21 148.63 L306.23 148.71 L307.25 148.79 L308.28 148.88 L309.31 148.96 L310.34 149.04 L311.37 149.12 L312.41 149.20 L313.45 149.28 L314.49 149.36 L315.53 149.44 L316.57 149.52 L317.62 149.59 L318.67 149.67 L319.72 149.75 L320.78 149.83 L321.84 149.90 L322.90 149.98 L323.96 150.05 L325.02 150.13 L326.09 150.20 L327.16 150.28 L328.23 150.35 L329.30 150.43 L330.38 150.50 L331.46 150.57 L332.54 150.64 L333.62 150.72 L334.70 150.79 L335.79 150.86 L336.88 150.93 L337.97 151.00 L339.07 151.07 L340.17 151.14 L341.27 151.21 L342.37 151.28 L343.47 151.34 L344.58 151.41 L345.69 151.48 L346.80 151.55 L347.91 151.61 L349.03 151.68 L350.15 151.74 L351.27 151.81 L352.39 151.87 L353.52 151.94 L354.64 152.00 L355.77 152.07 L356.91 152.13 L358.04 152.19 L359.18 152.26 L360.32 152.32 L361.46 152.38 L362.60 152.44 L363.75 152.50 L364.90 152.56 L366.05 152.62 L367.20 152.68 L368.36 152.74 L369.52 152.80 L370.68 152.86 L371.84 152.92 L373.01 152.97 L374.17 153.03 L375.34 153.09 L376.52 153.14 L377.69 153.20 L378.87 153.26 L380.05 153.31 L381.23 153.37 L382.42 153.42 L383.60 153.47 L384.79 153.53 L385.98 153.58 L387.18 153.63 L388.37 153.69 L389.57 153.74 L390.77 153.79 L391.97 153.84 L393.18 153.89 L394.39 153.94 L395.60 154.00 L396.81 154.05 L398.03 154.09 L399.24 154.14 L400.46 154.19 L401.68 154.24 L402.91 154.29 L404.14 154.34 L405.36 154.39 L406.60 154.43 L407.83 154.48 L409.07 154.53 L410.30 154.57 L411.54 154.62 L412.79 154.66 L414.03 154.71 L415.28 154.75 L416.53 154.80 L417.78 154.84 L419.04 154.88 L420.30 154.93 L421.56 154.97 L422.82 155.01 L424.08 155.05 L425.35 155.10 L426.62 155.14 L427.89 155.18 L429.16 155.22 L430.44 155.26 L431.72 155.30 L433.00 155.34 L434.28 155.38 L435.57 155.42 L436.86 155.46 L438.15 155.49 L439.44 155.53 L440.73 155.57 L442.03 155.61 L443.33 155.64 L444.63 155.68 L445.94 155.72 L447.24 155.75 L448.55 155.79 L449.87 155.82 L451.18 155.86 L452.50 155.89 L453.81 155.93 L455.14 155.96 L456.46 156.00 L457.78 156.03 L459.11 156.06 L460.44 156.10 L461.78 156.13 L463.11 156.16 L464.45 156.19 L465.79 156.22 L467.13 156.25 L468.47 156.28 L469.82 156.32 L471.17 156.35 L472.52 156.38 L473.88 156.41 L475.23 156.43 L476.59 156.46 L477.95 156.49 L479.32 156.52 L480.68 156.55 L482.05 156.58 L483.42 156.60 L484.79 156.63 L486.17 156.66 L487.54 156.68 L488.92 156.71 L490.31 156.74 L491.69 156.76 L493.08 156.79 L494.47 156.81 L495.86 156.84 L497.25 156.86 L498.65 156.89 L500.05 156.91 L501.45 156.93 L502.85 156.96 L504.26 156.98 L505.67 157.00 L507.08 157.03 L508.49 157.05 L509.91 157.07 L511.32 157.09 L512.74 157.11 L514.17 157.13 L515.59 157.16 L517.02 157.18 L518.45 157.20 L519.88 157.22 L521.31 157.24 L522.75 157.26 L524.19 157.27 L525.63 157.29 L527.07 157.31 L528.52 157.33 L529.97 157.35 L531.42 157.37 L532.87 157.38 L534.32 157.40 L535.78 157.42 L537.24 157.44 L538.70 157.45 L540.17 157.47 L541.64 157.48 L543.11 157.50 L544.58 157.52 L546.05 157.53 L547.53 157.55 L549.01 157.56 L550.49 157.57 L551.97 157.59 L553.46 157.60 L554.95 157.62 L556.44 157.63 L557.93 157.64 L559.42 157.66 L560.92 157.67 L562.42 157.68 L563.92 157.69 L565.43 157.70 L566.94 157.72 L568.45 157.73 L569.96 157.74 L571.47 157.75 L572.99 157.76 L574.51 157.77 L576.03 157.78 L577.55 157.79 L579.08 157.80 L580.61 157.81 L582.14 157.82 L583.67 157.83 L585.21 157.84 L586.74 157.85 L588.28 157.85 L589.83 157.86 L591.37 157.87 L592.92 157.88 L594.47 157.88 L596.02 157.89 L597.57 157.90 L599.13 157.91 L600.69 157.91 L602.25 157.92 L603.81 157.92 L605.38 157.93 L606.95 157.94 L608.52 157.94 L610.09 157.95 L611.67 157.95 L613.25 157.95 L614.83 157.96 L616.41 157.96 L617.99 157.97 L619.58 157.97 L621.17 157.97 L622.76 157.98 L624.36 157.98 L625.95 157.98 L627.55 157.99 L629.15 157.99 L630.76 157.99 L632.36 157.99 L633.97 157.99 L635.58 158.00 L637.20 158.00 L638.81 158.00 L640.43 158.00 L642.05 158.00 L643.67 158.00 L645.30 158.00 L646.92 158.00 L648.55 158.00 L650.18 158.00 L651.82 158.00 L653.46 158.00 L655.10 158.00 L656.74 158.00 L658.38 158.00 L660.03 157.99 L661.67 157.99 L663.33 157.99 L664.98 157.99 L666.63 157.99 L668.29 157.98 L669.95 157.98 L671.62 157.98 L673.28 157.97 L674.95 157.97 L676.62 157.97 L678.29 157.96 L679.96 157.96 L681.64 157.96 L683.32 157.95 L685.00 157.95 L686.68 157.94 L688.37 157.94 L690.06 157.93 L691.75 157.93 L693.44 157.92 L695.14 157.92 L696.84 157.91 L698.54 157.90 L700.24 157.90 L701.95 157.89 L703.65 157.89 L705.36 157.88 L707.07 157.87 L708.79 157.86 L710.51 157.86 L712.23 157.85 L713.95 157.84 L715.67 157.83 L717.40 157.83 L719.13 157.82 L720.86 157.81 L722.59 157.80 L724.33 157.79 L726.06 157.78 L727.80 157.77 L729.55 157.76 L731.29 157.76 L733.04 157.75 L734.79 157.74 L736.54 157.73 L738.30 157.72 L740.05 157.71 L741.81 157.69 L743.57 157.68 L745.34 157.67 L747.10 157.66 L748.87 157.65 L750.64 157.64 L752.42 157.63 L754.19 157.62 L755.97 157.60 L757.75 157.59 L759.53 157.58 L761.32 157.57 L763.11 157.56 L764.90 157.54 L766.69 157.53 L768.48 157.52 L770.28 157.50 L772.08 157.49 L773.88 157.48 L775.68 157.46 L777.49 157.45 L779.30 157.44" stroke="#ff0000" stroke-width="3.00" stroke-dasharray="5.3 5.28"/>
<path d="M86.19 457.40 L86.29 447.65 L86.40 438.27 L86.50 429.22 L86.61 420.50 L86.72 412.07 L86.84 403.93 L86.95 396.05 L87.07 388.42 L87.20 381.02 L87.32 373.84 L87.45 366.88 L87.58 360.11 L87.71 353.54 L87.84 347.15 L87.98 340.92 L88.12 334.87 L88.26 328.97 L88.41 323.22 L88.55 317.62 L88.70 312.16 L88.86 306.82 L89.01 301.62 L89.17 296.54 L89.33 291.59 L89.49 286.74 L89.66 282.01 L89.83 277.39 L90.00 272.87 L90.17 268.45 L90.34 264.13 L90.52 259.90 L90.70 255.77 L90.89 251.73 L91.07 247.78 L91.26 243.91 L91.45 240.13 L91.64 236.43 L91.84 232.81 L92.04 229.27 L92.24 225.80 L92.44 222.41 L92.65 219.09 L92.86 215.84 L93.07 212.66 L93.28 209.55 L93.50 206.51 L93.72 203.54 L93.94 200.63 L94.16 197.78 L94.39 195.00 L94.62 192.28 L94.85 189.62 L95.08 187.02 L95.32 184.47 L95.56 181.99 L95.80 179.56 L96.05 177.19 L96.29 174.87 L96.54 172.60 L96.79 170.39 L97.05 168.23 L97.31 166.12 L97.57 164.06 L97.83 162.06 L98.09 160.10 L98.36 158.18 L98.63 156.32 L98.90 154.50 L99.18 152.73 L99.45 151.00 L99.73 149.32 L100.02 147.68 L100.30 146.09 L100.59 144.53 L100.88 143.02 L101.17 141.55 L101.47 140.12 L101.77 138.73 L102.07 137.37 L102.37 136.06 L102.68 134.78 L102.98 133.54 L103.29 132.33 L103.61 131.16 L103.92 130.03 L104.24 128.93 L104.56 127.86 L104.89 126.83 L105.21 125.83 L105.54 124.86 L105.87 123.92 L106.20 123.01 L106.54 122.13 L106.88 121.28 L107.22 120.46 L107.56 119.67 L107.91 118.90 L108.26 118.16 L108.61 117.45 L108.97 116.76 L109.32 116.10 L109.68 115.47 L110.04 114.85 L110.41 114.26 L110.77 113.70 L111.14 113.16 L111.51 112.64 L111.89 112.14 L112.27 111.66 L112.65 111.20 L113.03 110.77 L113.41 110.35 L113.80 109.95 L114.19 109.57 L114.58 109.21 L114.98 108.87 L115.37 108.54 L115.77 108.23 L116.18 107.94 L116.58 107.67 L116.99 107.41 L117.40 107.16 L117.81 106.94 L118.23 106.72 L118.64 106.52 L119.06 106.33 L119.49 106.16 L119.91 106.00 L120.34 105.86 L120.77 105.72 L121.20 105.60 L121.64 105.49 L122.08 105.39 L122.52 105.30 L122.96 105.23 L123.41 105.16 L123.86 105.10 L124.31 105.06 L124.76 105.02 L125.22 105.00 L125.67 104.98 L126.14 104.97 L126.60 104.97 L127.07 104.98 L127.53 105.00 L128.01 105.02 L128.48 105.06 L128.96 105.10 L129.44 105.14 L129.92 105.20 L130.40 105.26 L130.89 105.33 L131.38 105.40 L131.87 105.48 L132.36 105.57 L132.86 105.66 L133.36 105.76 L133.86 105.86 L134.36 105.97 L134.87 106.08 L135.38 106.20 L135.89 106.32 L136.41 106.45 L136.93 106.58 L137.45 106.72 L137.97 106.86 L138.49 107.01 L139.02 107.16 L139.55 107.31 L140.08 107.46 L140.62 107.62 L141.16 107.79 L141.70 107.95 L142.24 108.12 L142.78 108.30 L143.33 108.47 L143.88 108.65 L144.43 108.83 L144.99 109.01 L145.55 109.20 L146.11 109.39 L146.67 109.58 L147.24 109.77 L147.81 109.96 L148.38 110.16 L148.95 110.36 L149.53 110.56 L150.10 110.76 L150.68 110.96 L151.27 111.17 L151.85 111.37 L152.44 111.58 L153.03 111.79 L153.63 112.00 L154.22 112.21 L154.82 112.43 L155.42 112.64 L156.03 112.85 L156.63 113.07 L157.24 113.29 L157.86 113.51 L158.47 113.72 L159.09 113.94 L159.71 114.16 L160.33 114.38 L160.95 114.60 L161.58 114.83 L162.21 115.05 L162.84 115.27 L163.47 115.49 L164.11 115.72 L164.75 115.94 L165.39 116.16 L166.04 116.39 L166.69 116.61 L167.34 116.83 L167.99 117.06 L168.64 117.28 L169.30 117.51 L169.96 117.73 L170.62 117.96 L171.29 118.18 L171.96 118.41 L172.63 118.63 L173.30 118.85 L173.97 119.08 L174.65 119.30 L175.33 119.53 L176.01 119.75 L176.70 119.97 L177.39 120.19 L178.08 120.42 L178.77 120.64 L179.47 120.86 L180.17 121.08 L180.87 121.30 L181.57 121.52 L182.28 121.74 L182.99 121.96 L183.70 122.18 L184.41 122.40 L185.13 122.62 L185.84 122.84 L186.57 123.05 L187.29 123.27 L188.02 123.49 L188.74 123.70 L189.48 123.92 L190.21 124.13 L190.95 124.34 L191.69 124.56 L192.43 124.77 L193.17 124.98 L193.92 125.19 L194.67 125.40 L195.42 125.61 L196.17 125.82 L196.93 126.03 L197.69 126.24 L198.45 126.44 L199.22 126.65 L199.98 126.85 L200.75 127.06 L201.53 127.26 L202.30 127.46 L203.08 127.67 L203.86 127.87 L204.64 128.07 L205.43 128.27 L206.21 128.47 L207.00 128.67 L207.80 128.86 L208.59 129.06 L209.39 129.26 L210.19 129.45 L210.99 129.65 L211.80 129.84 L212.61 130.03 L213.42 130.23 L214.23 130.42 L215.04 130.61 L215.86 130.80 L216.68 130.98 L217.51 131.17 L218.33 131.36 L219.16 131.55 L219.99 131.73 L220.83 131.91 L221.66 132.10 L222.50 132.28 L223.34 132.46 L224.18 132.64 L225.03 132.82 L225.88 133.00 L226.73 133.18 L227.58 133.36 L228.44 133.54 L229.30 133.71 L230.16 133.89 L231.03 134.06 L231.89 134.23 L232.76 134.41 L233.63 134.58 L234.51 134.75 L235.38 134.92 L236.26 135.09 L237.15 135.26 L238.03 135.42 L238.92 135.59 L239.81 135.76 L240.70 135.92 L241.59 136.08 L242.49 136.25 L243.39 136.41 L244.29 136.57 L245.20 136.73 L246.10 136.89 L247.01 137.05 L247.93 137.21 L248.84 137.36 L249.76 137.52 L250.68 137.68 L251.60 137.83 L252.53 137.99 L253.46 138.14 L254.39 138.29 L255.32 138.44 L256.25 138.59 L257.19 138.74 L258.13 138.89 L259.08 139.04 L260.02 139.19 L260.97 139.33 L261.92 139.48 L262.87 139.62 L263.83 139.77 L264.79 139.91 L265.75 140.05 L266.71 140.19 L267.68 140.33 L268.65 140.47 L269.62 140.61 L270.59 140.75 L271.57 140.89 L272.55 141.03 L273.53 141.16 L274.51 141.30 L275.50 141.43 L276.49 141.56 L277.48 141.70 L278.47 141.83 L279.47 141.96 L280.47 142.09 L281.47 142.22 L282.48 142.35 L283.48 142.48 L284.49 142.60 L285.50 142.73 L286.52 142.86 L287.54 142.98 L288.56 143.11 L289.58 143.23 L290.60 143.35 L291.63 143.48 L292.66 143.60 L293.69 143.72 L294.73 143.84 L295.76 143.96 L296.80 144.07 L297.85 144.19 L298.89 144.31 L299.94 144.43 L300.99 144.54 L302.04 144.66 L303.10 144.77 L304.16 144.88 L305.22 145.00 L306.28 145.11 L307.35 145.22 L308.41 145.33 L309.48 145.44 L310.56 145.55 L311.63 145.66 L312.71 145.77 L313.79 145.87 L314.88 145.98 L315.96 146.09 L317.05 146.19 L318.14 146.29 L319.23 146.40 L320.33 146.50 L321.43 146.60 L322.53 146.71 L323.63 146.81 L324.74 146.91 L325.85 147.01 L326.96 147.11 L328.07 147.20 L329.19 147.30 L330.31 147.40 L331.43 147.50 L332.56 147.59 L333.68 147.69 L334.81 147.78 L335.94 147.88 L337.08 147.97 L338.22 148.06 L339.35 148.15 L340.50 148.25 L341.64 148.34 L342.79 148.43 L343.94 148.52 L345.09 148.61 L346.25 148.69 L347.40 148.78 L348.56 148.87 L349.73 148.96 L350.89 149.04 L352.06 149.13 L353.23 149.21 L354.40 149.30 L355.58 149.38 L356.75 149.46 L357.93 149.54 L359.12 149.63 L360.30 149.71 L361.49 149.79 L362.68 149.87 L363.87 149.95 L365.07 150.03 L366.27 150.11 L367.47 150.18 L368.67 150.26 L369.88 150.34 L371.09 150.41 L372.30 150.49 L373.51 150.56 L374.73 150.64 L375.94 150.71 L377.17 150.79 L378.39 150.86 L379.62 150.93 L380.84 151.00 L382.08 151.08 L383.31 151.15 L384.55 151.22 L385.78 151.29 L387.03 151.35 L388.27 151.42 L389.52 151.49 L390.77 151.56 L392.02 151.63 L393.27 151.69 L394.53 151.76 L395.79 151.82 L397.05 151.89 L398.31 151.95 L399.58 152.02 L400.85 152.08 L402.12 152.14 L403.40 152.21 L404.67 152.27 L405.95 152.33 L407.24 152.39 L408.52 152.45 L409.81 152.51 L411.10 152.57 L412.39 152.63 L413.69 152.69 L414.98 152.75 L416.28 152.81 L417.59 152.86 L418.89 152.92 L420.20 152.98 L421.51 153.03 L422.82 153.09 L424.14 153.14 L425.46 153.20 L426.78 153.25 L428.10 153.30 L429.43 153.36 L430.75 153.41 L432.09 153.46 L433.42 153.51 L434.75 153.57 L436.09 153.62 L437.43 153.67 L438.78 153.72 L440.12 153.77 L441.47 153.81 L442.82 153.86 L444.18 153.91 L445.53 153.96 L446.89 154.01 L448.25 154.05 L449.62 154.10 L450.98 154.15 L452.35 154.19 L453.72 154.24 L455.10 154.28 L456.48 154.33 L457.85 154.37 L459.24 154.41 L460.62 154.46 L462.01 154.50 L463.40 154.54 L464.79 154.58 L466.18 154.63 L467.58 154.67 L468.98 154.71 L470.38 154.75 L471.79 154.79 L473.19 154.83 L474.60 154.87 L476.02 154.90 L477.43 154.94 L478.85 154.98 L480.27 155.02 L481.69 155.06 L483.12 155.09 L484.54 155.13 L485.97 155.16 L487.41 155.20 L488.84 155.24 L490.28 155.27 L491.72 155.30 L493.16 155.34 L494.61 155.37 L496.06 155.41 L497.51 155.44 L498.96 155.47 L500.42 155.50 L501.88 155.54 L503.34 155.57 L504.80 155.60 L506.27 155.63 L507.73 155.66 L509.20 155.69 L510.68 155.72 L512.15 155.75 L513.63 155.78 L515.11 155.81 L516.60 155.84 L518.08 155.86 L519.57 155.89 L521.06 155.92 L522.56 155.95 L524.06 155.97 L525.55 156.00 L527.06 156.02 L528.56 156.05 L530.07 156.08 L531.58 156.10 L533.09 156.12 L534.60 156.15 L536.12 156.17 L537.64 156.20 L539.16 156.22 L540.69 156.24 L542.21 156.27 L543.74 156.29 L545.27 156.31 L546.81 156.33 L548.35 156.35 L549.89 156.37 L551.43 156.39 L552.97 156.42 L554.52 156.44 L556.07 156.46 L557.62 156.47 L559.18 156.49 L560.74 156.51 L562.30 156.53 L563.86 156.55 L565.43 156.57 L566.99 156.58 L568.56 156.60 L570.14 156.62 L571.71 156.64 L573.29 156.65 L574.87 156.67 L576.46 156.68 L578.04 156.70 L579.63 156.72 L581.22 156.73 L582.81 156.74 L584.41 156.76 L586.01 156.77 L587.61 156.79 L589.21 156.80 L590.82 156.81 L592.43 156.83 L594.04 156.84 L595.65 156.85 L597.27 156.86 L598.89 156.88 L600.51 156.89 L602.13 156.90 L603.76 156.91 L605.39 156.92 L607.02 156.93 L608.66 156.94 L610.29 156.95 L611.93 156.96 L613.57 156.97 L615.22 156.98 L616.87 156.99 L618.51 157.00 L620.17 157.00 L621.82 157.01 L623.48 157.02 L625.14 157.03 L626.80 157.03 L628.47 157.04 L630.13 157.05 L631.80 157.05 L633.48 157.06 L635.15 157.07 L636.83 157.07 L638.51 157.08 L640.19 157.08 L641.88 157.09 L643.56 157.09 L645.25 157.10 L646.95 157.10 L648.64 157.11 L650.34 157.11 L652.04 157.11 L653.74 157.12 L655.45 157.12 L657.16 157.12 L658.87 157.12 L660.58 157.13 L662.30 157.13 L664.02 157.13 L665.74 157.13 L667.46 157.13 L669.19 157.13 L670.92 157.13 L672.65 157.13 L674.38 157.13 L676.12 157.13 L677.86 157.13 L679.60 157.13 L681.34 157.13 L683.09 157.13 L684.84 157.13 L686.59 157.13 L688.34 157.13 L690.10 157.13 L691.86 157.12 L693.62 157.12 L695.38 157.12 L697.15 157.12 L698.92 157.11 L700.69 157.11 L702.47 157.11 L704.24 157.10 L706.02 157.10 L707.81 157.10 L709.59 157.09 L711.38 157.09 L713.17 157.08 L714.96 157.08 L716.76 157.07 L718.55 157.07 L720.35 157.06 L722.16 157.06 L723.96 157.05 L725.77 157.05 L727.58 157.04 L729.39 157.03 L731.21 157.03 L733.02 157.02 L734.84 157.01 L736.67 157.00 L738.49 157.00 L740.32 156.99 L742.15 156.98 L743.99 156.97 L745.82 156.96 L747.66 156.96 L749.50 156.95 L751.34 156.94 L753.19 156.93 L755.04 156.92 L756.89 156.91 L758.74 156.90 L760.60 156.89 L762.46 156.88 L764.32 156.87 L766.18 156.86 L768.05 156.85 L769.92 156.84 L771.79 156.83 L773.66 156.81 L775.54 156.80 L777.42 156.79 L779.30 156.78" stroke="#800080" stroke-width="3.00" stroke-dasharray="13.3 17.15" stroke-dashoffset="0.5"/>
<path d="M84.82 457.40 L84.88 443.66 L84.94 430.87 L85.00 418.91 L85.07 407.68 L85.14 397.11 L85.21 387.13 L85.29 377.67 L85.36 368.68 L85.44 360.11 L85.52 351.94 L85.61 344.12 L85.70 336.62 L85.79 329.42 L85.88 322.49 L85.98 315.82 L86.07 309.38 L86.18 303.16 L86.28 297.15 L86.39 291.32 L86.49 285.67 L86.61 280.19 L86.72 274.87 L86.84 269.70 L86.96 264.67 L87.08 259.78 L87.21 255.01 L87.33 250.36 L87.46 245.83 L87.60 241.41 L87.73 237.10 L87.87 232.89 L88.01 228.78 L88.16 224.76 L88.30 220.83 L88.45 217.00 L88.60 213.24 L88.76 209.57 L88.92 205.99 L89.08 202.48 L89.24 199.04 L89.40 195.68 L89.57 192.40 L89.74 189.18 L89.92 186.03 L90.09 182.96 L90.27 179.94 L90.45 177.00 L90.64 174.11 L90.82 171.29 L91.01 168.53 L91.21 165.83 L91.40 163.20 L91.60 160.62 L91.80 158.09 L92.00 155.63 L92.21 153.22 L92.41 150.86 L92.63 148.56 L92.84 146.31 L93.06 144.12 L93.27 141.98 L93.50 139.89 L93.72 137.85 L93.95 135.86 L94.18 133.92 L94.41 132.03 L94.64 130.19 L94.88 128.39 L95.12 126.64 L95.37 124.94 L95.61 123.29 L95.86 121.67 L96.11 120.11 L96.36 118.59 L96.62 117.11 L96.88 115.67 L97.14 114.28 L97.41 112.92 L97.67 111.61 L97.94 110.34 L98.22 109.11 L98.49 107.91 L98.77 106.76 L99.05 105.64 L99.33 104.56 L99.62 103.52 L99.91 102.51 L100.20 101.54 L100.49 100.61 L100.79 99.70 L101.09 98.84 L101.39 98.00 L101.70 97.20 L102.00 96.43 L102.31 95.69 L102.63 94.98 L102.94 94.30 L103.26 93.65 L103.58 93.03 L103.90 92.43 L104.23 91.87 L104.56 91.33 L104.89 90.82 L105.22 90.33 L105.56 89.87 L105.90 89.43 L106.24 89.02 L106.59 88.63 L106.94 88.27 L107.29 87.92 L107.64 87.60 L108.00 87.30 L108.35 87.03 L108.71 86.77 L109.08 86.53 L109.44 86.31 L109.81 86.11 L110.19 85.93 L110.56 85.77 L110.94 85.62 L111.32 85.49 L111.70 85.38 L112.08 85.28 L112.47 85.20 L112.86 85.14 L113.26 85.09 L113.65 85.05 L114.05 85.03 L114.45 85.02 L114.86 85.02 L115.26 85.04 L115.67 85.07 L116.08 85.11 L116.50 85.16 L116.91 85.23 L117.33 85.30 L117.76 85.39 L118.18 85.48 L118.61 85.59 L119.04 85.70 L119.47 85.83 L119.91 85.96 L120.35 86.10 L120.79 86.25 L121.24 86.41 L121.68 86.58 L122.13 86.75 L122.58 86.93 L123.04 87.12 L123.50 87.31 L123.96 87.51 L124.42 87.72 L124.88 87.93 L125.35 88.15 L125.82 88.38 L126.30 88.61 L126.77 88.84 L127.25 89.08 L127.73 89.33 L128.22 89.58 L128.71 89.83 L129.19 90.09 L129.69 90.35 L130.18 90.61 L130.68 90.88 L131.18 91.16 L131.68 91.43 L132.19 91.71 L132.70 91.99 L133.21 92.28 L133.72 92.57 L134.24 92.86 L134.76 93.15 L135.28 93.44 L135.80 93.74 L136.33 94.04 L136.86 94.34 L137.39 94.64 L137.93 94.95 L138.47 95.26 L139.01 95.56 L139.55 95.87 L140.10 96.18 L140.65 96.49 L141.20 96.81 L141.75 97.12 L142.31 97.44 L142.87 97.75 L143.43 98.07 L143.99 98.39 L144.56 98.70 L145.13 99.02 L145.70 99.34 L146.28 99.66 L146.86 99.98 L147.44 100.30 L148.02 100.62 L148.61 100.94 L149.20 101.26 L149.79 101.58 L150.38 101.90 L150.98 102.22 L151.58 102.54 L152.18 102.86 L152.79 103.18 L153.39 103.50 L154.00 103.82 L154.62 104.14 L155.23 104.46 L155.85 104.78 L156.47 105.10 L157.09 105.41 L157.72 105.73 L158.35 106.04 L158.98 106.36 L159.62 106.67 L160.25 106.99 L160.89 107.30 L161.54 107.61 L162.18 107.93 L162.83 108.24 L163.48 108.55 L164.13 108.86 L164.79 109.16 L165.45 109.47 L166.11 109.78 L166.77 110.08 L167.44 110.39 L168.11 110.69 L168.78 111.00 L169.45 111.30 L170.13 111.60 L170.81 111.90 L171.49 112.20 L172.18 112.49 L172.87 112.79 L173.56 113.08 L174.25 113.38 L174.95 113.67 L175.65 113.96 L176.35 114.25 L177.05 114.54 L177.76 114.83 L178.47 115.12 L179.18 115.41 L179.89 115.69 L180.61 115.97 L181.33 116.26 L182.05 116.54 L182.78 116.82 L183.51 117.10 L184.24 117.37 L184.97 117.65 L185.71 117.92 L186.45 118.20 L187.19 118.47 L187.93 118.74 L188.68 119.01 L189.43 119.28 L190.18 119.55 L190.94 119.81 L191.70 120.08 L192.46 120.34 L193.22 120.60 L193.98 120.86 L194.75 121.12 L195.52 121.38 L196.30 121.64 L197.07 121.89 L197.85 122.15 L198.64 122.40 L199.42 122.65 L200.21 122.90 L201.00 123.15 L201.79 123.40 L202.58 123.64 L203.38 123.89 L204.18 124.13 L204.99 124.38 L205.79 124.62 L206.60 124.86 L207.41 125.10 L208.23 125.33 L209.04 125.57 L209.86 125.80 L210.68 126.04 L211.51 126.27 L212.34 126.50 L213.17 126.73 L214.00 126.96 L214.83 127.19 L215.67 127.41 L216.51 127.64 L217.36 127.86 L218.20 128.08 L219.05 128.30 L219.90 128.52 L220.76 128.74 L221.61 128.96 L222.47 129.18 L223.34 129.39 L224.20 129.60 L225.07 129.82 L225.94 130.03 L226.81 130.24 L227.69 130.44 L228.56 130.65 L229.45 130.86 L230.33 131.06 L231.22 131.27 L232.10 131.47 L233.00 131.67 L233.89 131.87 L234.79 132.07 L235.69 132.27 L236.59 132.46 L237.50 132.66 L238.40 132.85 L239.31 133.05 L240.23 133.24 L241.14 133.43 L242.06 133.62 L242.98 133.81 L243.91 134.00 L244.83 134.18 L245.76 134.37 L246.69 134.55 L247.63 134.73 L248.57 134.92 L249.51 135.10 L250.45 135.28 L251.39 135.45 L252.34 135.63 L253.29 135.81 L254.24 135.98 L255.20 136.16 L256.16 136.33 L257.12 136.50 L258.09 136.67 L259.05 136.84 L260.02 137.01 L260.99 137.18 L261.97 137.35 L262.95 137.51 L263.93 137.68 L264.91 137.84 L265.89 138.00 L266.88 138.16 L267.87 138.32 L268.87 138.48 L269.86 138.64 L270.86 138.80 L271.86 138.96 L272.87 139.11 L273.87 139.27 L274.88 139.42 L275.90 139.57 L276.91 139.72 L277.93 139.87 L278.95 140.02 L279.97 140.17 L281.00 140.32 L282.03 140.47 L283.06 140.61 L284.09 140.76 L285.13 140.90 L286.17 141.04 L287.21 141.19 L288.25 141.33 L289.30 141.47 L290.35 141.61 L291.40 141.74 L292.46 141.88 L293.52 142.02 L294.58 142.15 L295.64 142.29 L296.70 142.42 L297.77 142.56 L298.84 142.69 L299.92 142.82 L301.00 142.95 L302.07 143.08 L303.16 143.21 L304.24 143.34 L305.33 143.46 L306.42 143.59 L307.51 143.71 L308.61 143.84 L309.70 143.96 L310.81 144.08 L311.91 144.21 L313.01 144.33 L314.12 144.45 L315.24 144.57 L316.35 144.68 L317.47 144.80 L318.59 144.92 L319.71 145.04 L320.83 145.15 L321.96 145.27 L323.09 145.38 L324.22 145.49 L325.36 145.60 L326.50 145.72 L327.64 145.83 L328.78 145.94 L329.93 146.05 L331.08 146.15 L332.23 146.26 L333.38 146.37 L334.54 146.47 L335.70 146.58 L336.86 146.68 L338.03 146.79 L339.19 146.89 L340.37 146.99 L341.54 147.09 L342.71 147.20 L343.89 147.30 L345.07 147.40 L346.26 147.49 L347.44 147.59 L348.63 147.69 L349.83 147.79 L351.02 147.88 L352.22 147.98 L353.42 148.07 L354.62 148.17 L355.82 148.26 L357.03 148.35 L358.24 148.44 L359.46 148.53 L360.67 148.63 L361.89 148.71 L363.11 148.80 L364.34 148.89 L365.56 148.98 L366.79 149.07 L368.02 149.15 L369.26 149.24 L370.50 149.33 L371.74 149.41 L372.98 149.49 L374.23 149.58 L375.47 149.66 L376.72 149.74 L377.98 149.82 L379.23 149.90 L380.49 149.98 L381.75 150.06 L383.02 150.14 L384.29 150.22 L385.56 150.30 L386.83 150.38 L388.10 150.45 L389.38 150.53 L390.66 150.60 L391.94 150.68 L393.23 150.75 L394.52 150.83 L395.81 150.90 L397.10 150.97 L398.40 151.04 L399.70 151.11 L401.00 151.19 L402.30 151.26 L403.61 151.32 L404.92 151.39 L406.23 151.46 L407.55 151.53 L408.87 151.60 L410.19 151.66 L411.51 151.73 L412.84 151.80 L414.16 151.86 L415.50 151.93 L416.83 151.99 L418.17 152.05 L419.51 152.12 L420.85 152.18 L422.19 152.24 L423.54 152.30 L424.89 152.36 L426.24 152.42 L427.60 152.48 L428.96 152.54 L430.32 152.60 L431.68 152.66 L433.05 152.72 L434.41 152.77 L435.79 152.83 L437.16 152.89 L438.54 152.94 L439.92 153.00 L441.30 153.05 L442.68 153.11 L444.07 153.16 L445.46 153.21 L446.85 153.27 L448.25 153.32 L449.65 153.37 L451.05 153.42 L452.45 153.47 L453.86 153.52 L455.27 153.57 L456.68 153.62 L458.09 153.67 L459.51 153.72 L460.93 153.77 L462.35 153.82 L463.78 153.86 L465.20 153.91 L466.64 153.96 L468.07 154.00 L469.50 154.05 L470.94 154.09 L472.38 154.14 L473.83 154.18 L475.27 154.22 L476.72 154.27 L478.17 154.31 L479.63 154.35 L481.09 154.39 L482.55 154.44 L484.01 154.48 L485.47 154.52 L486.94 154.56 L488.41 154.60 L489.89 154.64 L491.36 154.67 L492.84 154.71 L494.32 154.75 L495.81 154.79 L497.29 154.83 L498.78 154.86 L500.27 154.90 L501.77 154.94 L503.27 154.97 L504.77 155.01 L506.27 155.04 L507.77 155.08 L509.28 155.11 L510.79 155.14 L512.31 155.18 L513.82 155.21 L515.34 155.24 L516.86 155.27 L518.39 155.30 L519.91 155.34 L521.44 155.37 L522.98 155.40 L524.51 155.43 L526.05 155.46 L527.59 155.49 L529.13 155.52 L530.68 155.54 L532.23 155.57 L533.78 155.60 L535.33 155.63 L536.89 155.65 L538.45 155.68 L540.01 155.71 L541.57 155.73 L543.14 155.76 L544.71 155.79 L546.28 155.81 L547.86 155.83 L549.43 155.86 L551.01 155.88 L552.60 155.91 L554.18 155.93 L555.77 155.95 L557.36 155.98 L558.96 156.00 L560.55 156.02 L562.15 156.04 L563.76 156.06 L565.36 156.08 L566.97 156.10 L568.58 156.12 L570.19 156.14 L571.81 156.16 L573.42 156.18 L575.04 156.20 L576.67 156.22 L578.29 156.24 L579.92 156.26 L581.55 156.27 L583.19 156.29 L584.82 156.31 L586.46 156.32 L588.11 156.34 L589.75 156.36 L591.40 156.37 L593.05 156.39 L594.70 156.40 L596.36 156.42 L598.01 156.43 L599.68 156.45 L601.34 156.46 L603.01 156.47 L604.67 156.49 L606.35 156.50 L608.02 156.51 L609.70 156.52 L611.38 156.54 L613.06 156.55 L614.74 156.56 L616.43 156.57 L618.12 156.58 L619.82 156.59 L621.51 156.60 L623.21 156.61 L624.91 156.62 L626.61 156.63 L628.32 156.64 L630.03 156.65 L631.74 156.66 L633.46 156.66 L635.17 156.67 L636.89 156.68 L638.62 156.69 L640.34 156.69 L642.07 156.70 L643.80 156.71 L645.53 156.71 L647.27 156.72 L649.01 156.73 L650.75 156.73 L652.49 156.74 L654.24 156.74 L655.99 156.75 L657.74 156.75 L659.50 156.75 L661.25 156.76 L663.01 156.76 L664.78 156.76 L666.54 156.77 L668.31 156.77 L670.08 156.77 L671.85 156.78 L673.63 156.78 L675.41 156.78 L677.19 156.78 L678.97 156.78 L680.76 156.78 L682.55 156.78 L684.34 156.78 L686.14 156.78 L687.94 156.78 L689.74 156.78 L691.54 156.78 L693.34 156.78 L695.15 156.78 L696.96 156.78 L698.78 156.78 L700.59 156.78 L702.41 156.78 L704.23 156.77 L706.06 156.77 L707.89 156.77 L709.72 156.77 L711.55 156.76 L713.38 156.76 L715.22 156.76 L717.06 156.75 L718.90 156.75 L720.75 156.74 L722.60 156.74 L724.45 156.73 L726.30 156.73 L728.16 156.72 L730.02 156.72 L731.88 156.71 L733.75 156.71 L735.61 156.70 L737.48 156.69 L739.36 156.69 L741.23 156.68 L743.11 156.67 L744.99 156.67 L746.87 156.66 L748.76 156.65 L750.65 156.64 L752.54 156.64 L754.43 156.63 L756.33 156.62 L758.23 156.61 L760.13 156.60 L762.04 156.59 L763.94 156.58 L765.85 156.57 L767.77 156.56 L769.68 156.55 L771.60 156.54 L773.52 156.53 L775.44 156.52 L777.37 156.51 L779.30 156.50" stroke="#0000ff" stroke-width="3.00"/>
</g>
<line x1="69.50" y1="278.70" x2="792.50" y2="278.70" stroke="#000" stroke-opacity="0.23" stroke-width="1"/>
<path d="M84.22 457.40 v-5.40 M84.22 10.55 v5.40 M114.89 457.40 v-3.30 M114.89 10.55 v3.30 M145.55 457.40 v-3.30 M145.55 10.55 v3.30 M176.22 457.40 v-3.30 M176.22 10.55 v3.30 M206.88 457.40 v-3.30 M206.88 10.55 v3.30 M237.55 457.40 v-5.40 M237.55 10.55 v5.40 M268.22 457.40 v-3.30 M268.22 10.55 v3.30 M298.88 457.40 v-3.30 M298.88 10.55 v3.30 M329.55 457.40 v-3.30 M329.55 10.55 v3.30 M360.21 457.40 v-3.30 M360.21 10.55 v3.30 M390.88 457.40 v-5.40 M390.88 10.55 v5.40 M421.55 457.40 v-3.30 M421.55 10.55 v3.30 M452.21 457.40 v-3.30 M452.21 10.55 v3.30 M482.88 457.40 v-3.30 M482.88 10.55 v3.30 M513.54 457.40 v-3.30 M513.54 10.55 v3.30 M544.21 457.40 v-5.40 M544.21 10.55 v5.40 M574.88 457.40 v-3.30 M574.88 10.55 v3.30 M605.54 457.40 v-3.30 M605.54 10.55 v3.30 M636.21 457.40 v-3.30 M636.21 10.55 v3.30 M666.87 457.40 v-3.30 M666.87 10.55 v3.30 M697.54 457.40 v-5.40 M697.54 10.55 v5.40 M728.21 457.40 v-3.30 M728.21 10.55 v3.30 M758.87 457.40 v-3.30 M758.87 10.55 v3.30 M789.54 457.40 v-3.30 M789.54 10.55 v3.30 M69.50 457.40 h5.40 M792.50 457.40 h-5.40 M69.50 435.06 h3.30 M792.50 435.06 h-3.30 M69.50 412.73 h3.30 M792.50 412.73 h-3.30 M69.50 390.39 h3.30 M792.50 390.39 h-3.30 M69.50 368.05 h5.40 M792.50 368.05 h-5.40 M69.50 345.71 h3.30 M792.50 345.71 h-3.30 M69.50 323.38 h3.30 M792.50 323.38 h-3.30 M69.50 301.04 h3.30 M792.50 301.04 h-3.30 M69.50 278.70 h5.40 M792.50 278.70 h-5.40 M69.50 256.36 h3.30 M792.50 256.36 h-3.30 M69.50 234.02 h3.30 M792.50 234.02 h-3.30 M69.50 211.69 h3.30 M792.50 211.69 h-3.30 M69.50 189.35 h5.40 M792.50 189.35 h-5.40 M69.50 167.01 h3.30 M792.50 167.01 h-3.30 M69.50 144.67 h3.30 M792.50 144.67 h-3.30 M69.50 122.34 h3.30 M792.50 122.34 h-3.30 M69.50 100.00 h5.40 M792.50 100.00 h-5.40 M69.50 77.66 h3.30 M792.50 77.66 h-3.30 M69.50 55.32 h3.30 M792.50 55.32 h-3.30 M69.50 32.99 h3.30 M792.50 32.99 h-3.30 M69.50 10.65 h5.40 M792.50 10.65 h-5.40" stroke="#484848" stroke-width="1" fill="none"/>
<path d="M69 10.5 H793 M69 457.5 H793 M69.55 10 V458 M792.5 10 V458" fill="none" stroke="#434343" stroke-width="1.05"/>
<text class="tl" x="65.7" y="17" text-anchor="end">0.6</text>
<text class="tl" x="65.7" y="106" text-anchor="end">0.4</text>
<text class="tl" x="65.7" y="196" text-anchor="end">0.2</text>
<text class="tl" x="65.7" y="285" text-anchor="end">0.0</text>
<text class="tl" x="65.7" y="374" text-anchor="end">−0.2</text>
<text class="tl" x="65.7" y="464" text-anchor="end">−0.4</text>
<text class="tl" x="84.52" y="478" text-anchor="middle">0</text>
<text class="tl" x="237.85" y="478" text-anchor="middle">1</text>
<text class="tl" x="391.18" y="478" text-anchor="middle">2</text>
<text class="tl" x="544.51" y="478" text-anchor="middle">3</text>
<text class="tl" x="697.84" y="478" text-anchor="middle">4</text>
<text class="tl" x="430.8" y="507" text-anchor="middle">S</text>
<text class="tl" transform="translate(16.2,233.7) rotate(-90)" text-anchor="middle">T</text>
<line x1="654.1" y1="300.50" x2="704" y2="300.50" stroke="#00ff00" stroke-width="3" stroke-dasharray="1.4 5.1 5.5 5.1"/>
<text class="lg" x="713.7" y="304.70"><tspan font-style="italic">Q</tspan>=0.20</text>
<path d="M716.0 295.50 q0.8 -0.6 1.6 0 t1.6 0" stroke="#000" stroke-width="1.0" fill="none"/>
<line x1="654.1" y1="329.90" x2="704" y2="329.90" stroke="#000000" stroke-width="3" stroke-dasharray="1.4 3.9"/>
<text class="lg" x="713.7" y="334.10"><tspan font-style="italic">Q</tspan>=0.15</text>
<path d="M716.0 324.90 q0.8 -0.6 1.6 0 t1.6 0" stroke="#000" stroke-width="1.0" fill="none"/>
<line x1="654.1" y1="359.10" x2="704" y2="359.10" stroke="#ff0000" stroke-width="3" stroke-dasharray="5.3 5.3"/>
<text class="lg" x="713.7" y="363.30"><tspan font-style="italic">Q</tspan>=0.11</text>
<path d="M716.0 354.10 q0.8 -0.6 1.6 0 t1.6 0" stroke="#000" stroke-width="1.0" fill="none"/>
<line x1="654.1" y1="388.30" x2="704" y2="388.30" stroke="#800080" stroke-width="3" stroke-dasharray="13.3 17.2"/>
<text class="lg" x="713.7" y="392.50"><tspan font-style="italic">Q</tspan>=0.09</text>
<path d="M716.0 383.30 q0.8 -0.6 1.6 0 t1.6 0" stroke="#000" stroke-width="1.0" fill="none"/>
<line x1="652.9" y1="418.30" x2="705.9" y2="418.30" stroke="#0000ff" stroke-width="3.3"/>
<text class="lgb" x="713.6" y="422.60"><tspan font-style="italic">Q</tspan>=0.08</text>
<path d="M717.2 411.10 q1 -0.9 2 -0.1 t2 -0.1" stroke="#000" stroke-width="1.05" fill="none"/>
</svg></body></html>
